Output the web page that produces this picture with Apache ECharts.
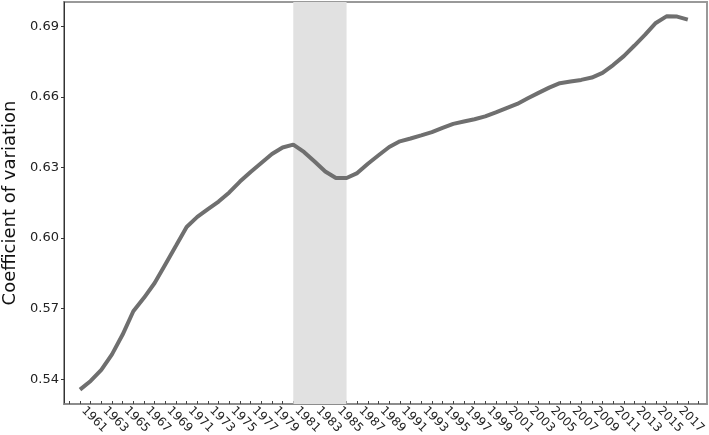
<!DOCTYPE html>
<html>
<head>
<meta charset="utf-8">
<script src="https://cdn.jsdelivr.net/npm/echarts@6/dist/echarts.min.js"></script>
<style>
  html, body { margin: 0; padding: 0; background: #fff; }
  #chart { width: 709px; height: 435px; }
</style>
</head>
<body>
<div id="chart"></div>
<script>
const years = [1960, 1961, 1962, 1963, 1964, 1965, 1966, 1967, 1968, 1969,
  1970, 1971, 1972, 1973, 1974, 1975, 1976, 1977, 1978, 1979,
  1980, 1981, 1982, 1983, 1984, 1985, 1986, 1987, 1988, 1989,
  1990, 1991, 1992, 1993, 1994, 1995, 1996, 1997, 1998, 1999,
  2000, 2001, 2002, 2003, 2004, 2005, 2006, 2007, 2008, 2009,
  2010, 2011, 2012, 2013, 2014, 2015, 2016, 2017];
const cvValues = [0.5356, 0.5393, 0.5440, 0.5506, 0.5590, 0.5689, 0.5746, 0.5809, 0.5888, 0.5967,
  0.6047, 0.6090, 0.6123, 0.6155, 0.6194, 0.6240, 0.6281, 0.6319, 0.6357, 0.6385,
  0.6397, 0.6366, 0.6325, 0.6283, 0.6255, 0.6255, 0.6276, 0.6316, 0.6352, 0.6387,
  0.6411, 0.6423, 0.6436, 0.6450, 0.6468, 0.6485, 0.6495, 0.6505, 0.6517, 0.6534,
  0.6552, 0.6570, 0.6594, 0.6617, 0.6639, 0.6658, 0.6665, 0.6672, 0.6682, 0.6702,
  0.6735, 0.6773, 0.6818, 0.6864, 0.6914, 0.6942, 0.6941, 0.6928];
const shadeRange = [1980, 1985];
const xLabelYears = [1961, 1963, 1965, 1967, 1969, 1971, 1973, 1975, 1977, 1979,
  1981, 1983, 1985, 1987, 1989, 1991, 1993, 1995, 1997, 1999,
  2001, 2003, 2005, 2007, 2009, 2011, 2013, 2015, 2017];
const yTicks = [0.54, 0.57, 0.60, 0.63, 0.66, 0.69];

// one tick per year, 1959..2018
const xTickYears = [];
for (let y = 1959; y <= 2018; y++) xTickYears.push(y);

const chart = echarts.init(document.getElementById("chart"));
const font = "DejaVu Sans";

chart.setOption({
  animation: false,
  grid: {
    left: 64, right: 2, top: 2, bottom: 31,
    outerBoundsMode: "none",
    containLabel: false,
    show: true,
    borderColor: "#999",
    borderWidth: 2,
    backgroundColor: "transparent"
  },
  xAxis: {
    type: "value",
    min: 1958.5,
    max: 2018.8,
    splitLine: { show: false },
    axisLine: { lineStyle: { color: "#888", width: 1.5 } },
    axisTick: {
      show: true, inside: true, length: 3,
      customValues: xTickYears,
      lineStyle: { color: "#444" }
    },
    axisLabel: {
      customValues: xLabelYears,
      rotate: -45,
      align: "center",
      verticalAlign: "middle",
      margin: 12,
      padding: [0, 0, 0, 10],
      fontFamily: font,
      fontSize: 12,
      color: "#222",
      formatter: v => String(v)
    }
  },
  yAxis: {
    type: "value",
    min: 0.5295,
    max: 0.7003,
    name: "Coefficient of variation",
    nameLocation: "middle",
    nameGap: 44,
    nameTextStyle: { fontFamily: font, fontSize: 18, color: "#111" },
    splitLine: { show: false },
    axisLine: { show: true, lineStyle: { color: "#333", width: 1 } },
    axisTick: {
      show: true, length: 3,
      customValues: yTicks,
      lineStyle: { color: "#333" }
    },
    axisLabel: {
      customValues: yTicks,
      margin: 5,
      fontFamily: font,
      fontSize: 13,
      color: "#222",
      formatter: v => v.toFixed(2)
    }
  },
  series: [
    {
      type: "line",
      data: [],
      z: 1,
      silent: true,
      markArea: {
        silent: true,
        itemStyle: { color: "#e1e1e1" },
        data: [[{ xAxis: shadeRange[0] }, { xAxis: shadeRange[1] }]]
      }
    },
    {
      type: "line",
      z: 3,
      data: years.map((y, i) => [y, cvValues[i]]),
      showSymbol: false,
      smooth: false,
      lineStyle: { color: "#6f6f6f", width: 4 }
    }
  ]
});
</script>
</body>
</html>
